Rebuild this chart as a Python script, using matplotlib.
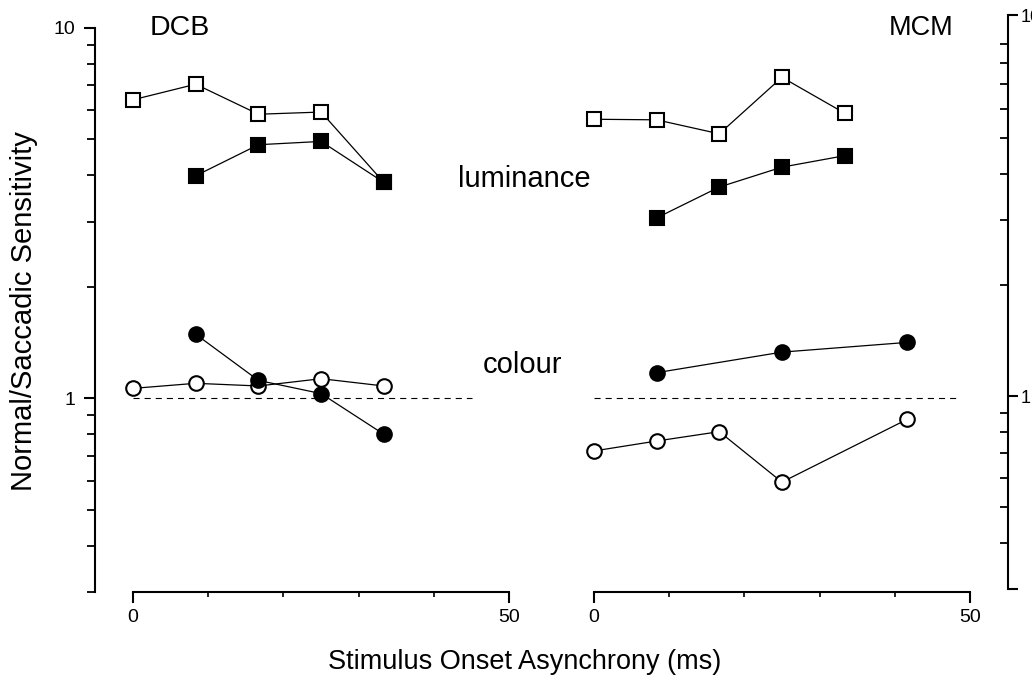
import matplotlib.pyplot as plt
from matplotlib.ticker import NullFormatter

plt.rcParams['font.family'] = ['Liberation Sans', 'DejaVu Sans']

# stimulus onset asynchrony (ms), one frame = 8.33 ms
soa = [0, 8.33, 16.67, 25, 33.33, 41.67]

# observer DCB
dcb_lum_open = [6.40, 7.05, 5.85, 5.93, 3.83]
dcb_lum_fill = [3.99, 4.84, 4.94, 3.83]
dcb_col_open = [1.064, 1.098, 1.08, 1.13, 1.08]
dcb_col_fill = [1.49, 1.118, 1.03, 0.80]

# observer MCM
mcm_lum_open = [5.67, 5.65, 5.18, 7.36, 5.89]
mcm_lum_fill = [3.07, 3.72, 4.21, 4.52]
mcm_col_open = [0.721, 0.767, 0.813, 0.594, 0.878]
mcm_col_fill = [1.173, 1.333, 1.416]

W, H = 1032, 675
fig = plt.figure(figsize=(W / 100, H / 100), dpi=100)


def box(x0, x1, y0, y1):
    return [x0 / W, 1 - y1 / H, (x1 - x0) / W, (y1 - y0) / H]


ax1 = fig.add_axes(box(95, 513, 28, 592))
ax2 = fig.add_axes(box(591.7, 1000, 28, 592))
axr = fig.add_axes(box(1007, 1008, 15, 589))
for ax in (ax1, ax2, axr):
    ax.patch.set_alpha(0)

line_kw = dict(color='black', lw=0.9, clip_on=False)
open_sq = dict(marker='s', ms=10, mfc='white', mec='black', mew=1.5)
fill_sq = dict(marker='s', ms=10, mfc='black', mec='black', mew=1.5)
open_ci = dict(marker='o', ms=10.5, mfc='white', mec='black', mew=1.5)
fill_ci = dict(marker='o', ms=10.5, mfc='black', mec='black', mew=1.5)

# DCB panel
ax1.plot([0, 45], [1, 1], color='black', lw=0.8, dashes=(5.5, 4.5))
ax1.plot(soa[:5], dcb_lum_open, **line_kw, **open_sq)
ax1.plot(soa[1:5], dcb_lum_fill, **line_kw, **fill_sq)
ax1.plot(soa[:5], dcb_col_open, **line_kw, **open_ci)
ax1.plot(soa[1:5], dcb_col_fill, **line_kw, **fill_ci)

# MCM panel
ax2.plot([0, 48.5], [1, 1], color='black', lw=0.8, dashes=(5.5, 4.5))
ax2.plot(soa[:5], mcm_lum_open, **line_kw, **open_sq)
ax2.plot(soa[1:5], mcm_lum_fill, **line_kw, **fill_sq)
ax2.plot(soa[:4] + soa[5:], mcm_col_open, **line_kw, **open_ci)
ax2.plot([soa[1], soa[3], soa[5]], mcm_col_fill, **line_kw, **fill_ci)

minors = [0.3, 0.4, 0.5, 0.6, 0.7, 0.8, 0.9, 2, 3, 4, 5, 6, 7, 8, 9]

ax1.set_xlim(-5.05, 50.5)
ax2.set_xlim(-0.3, 54)
for ax in (ax1, ax2):
    ax.set_yscale('log')
    ax.set_ylim(0.3, 10)
    ax.spines['top'].set_visible(False)
    ax.spines['right'].set_visible(False)
    ax.spines['bottom'].set_bounds(0, 50)
    ax.spines['bottom'].set_linewidth(1.5)
    ax.set_xticks([0, 50], labels=['0', '50'])
    ax.set_xticks([10, 20, 30, 40], minor=True)
    ax.tick_params(axis='x', which='major', length=8, width=1.5,
                   labelsize=14, pad=4)
    ax.tick_params(axis='x', which='minor', length=3.5, width=1.2)

ax1.spines['left'].set_linewidth(1.5)
ax1.set_yticks([1, 10], labels=['1', '10'])
ax1.set_yticks(minors, minor=True)
ax1.yaxis.set_minor_formatter(NullFormatter())
ax1.tick_params(axis='y', which='major', length=8, width=1.5,
                labelsize=14, pad=6)
ax1.tick_params(axis='y', which='minor', length=5.5, width=1.3)

ax2.spines['left'].set_visible(False)
ax2.tick_params(axis='y', which='both', left=False, labelleft=False)

# right-hand scale
for s in ('left', 'top', 'bottom'):
    axr.spines[s].set_visible(False)
axr.spines['right'].set_linewidth(1.5)
axr.set_xticks([])
axr.set_yscale('log')
axr.set_ylim(0.3, 10.8)
axr.yaxis.tick_right()
axr.set_yticks([0.3, 1, 10.8], labels=['', '1', '10'])
axr.set_yticks([0.4, 0.5, 0.6, 0.7, 0.8, 0.9, 2, 3, 4, 5, 6, 7, 8, 9],
               minor=True)
axr.yaxis.set_minor_formatter(NullFormatter())
axr.tick_params(axis='y', which='major', direction='out', length=7,
                width=1.5, labelsize=13, pad=2)
axr.tick_params(axis='y', which='minor', direction='in', length=5.5,
                width=1.3)

ax1.text(0.13, 1.0, 'DCB', transform=ax1.transAxes, fontsize=20.5,
         ha='left', va='center')
ax2.text(0.885, 1.0, 'MCM', transform=ax2.transAxes, fontsize=19.5,
         ha='right', va='center')

fig.text(458 / W, 1 - 187 / H, 'luminance', fontsize=21, ha='left',
         va='baseline')
fig.text(483 / W, 1 - 373 / H, 'colour', fontsize=21, ha='left',
         va='baseline')

fig.text(24 / W, 1 - 311 / H, 'Normal/Saccadic Sensitivity', fontsize=21,
         rotation=90, ha='center', va='center')
fig.text(525 / W, 1 - 662 / H, 'Stimulus Onset Asynchrony (ms)',
         fontsize=19.5, ha='center', va='center')

fig.savefig('out.png', dpi=100)
